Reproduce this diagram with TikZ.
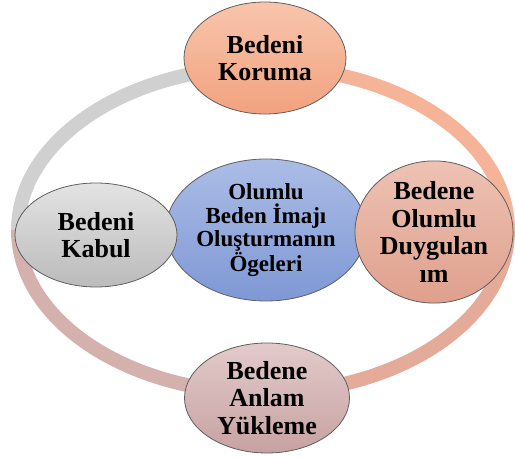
\documentclass[tikz,border=0pt]{standalone}
\usepackage{fontspec}
\setmainfont{Liberation Serif}
\usetikzlibrary{shapes.geometric}
\definecolor{ringgray}{HTML}{D0D0D0}
\definecolor{ringorange}{HTML}{F5B498}
\definecolor{ringsalmon}{HTML}{E5AB99}
\definecolor{ringpink}{HTML}{D5B1AE}
\definecolor{bordergray}{HTML}{5E5E5E}
\definecolor{hubtop}{HTML}{ABBDE6}
\definecolor{hubbot}{HTML}{7F98D5}
\definecolor{toptop}{HTML}{F8C5AC}
\definecolor{topbot}{HTML}{F2A27F}
\definecolor{lefttop}{HTML}{E3E3E3}
\definecolor{leftbot}{HTML}{BBBBBB}
\definecolor{righttop}{HTML}{EEC2B4}
\definecolor{rightbot}{HTML}{DFA08D}
\definecolor{bottop}{HTML}{E3CACA}
\definecolor{botbot}{HTML}{C7A2A2}
\tikzset{
  bubble/.style={ellipse, draw=bordergray, line width=0.8pt, inner sep=0pt,
    align=center, font=\fontsize{26}{27.5}\selectfont\bfseries},
  hub/.style={bubble, font=\fontsize{23}{23.2}\selectfont\bfseries},
  ringseg/.style={line width=14pt}
}
\begin{document}
\begin{tikzpicture}[x=1pt,y=1pt]
\useasboundingbox (0,0) rectangle (515,458);
\coordinate (ringc) at (263,228);
% ring
\draw[ringseg, draw=ringorange] ([shift={(245,0)}]ringc) arc[start angle=0, end angle=90, x radius=245, y radius=163];
\draw[ringseg, draw=ringgray] ([shift={(0,163)}]ringc) arc[start angle=90, end angle=180, x radius=245, y radius=163];
\draw[ringseg, draw=ringpink] ([shift={(-245,0)}]ringc) arc[start angle=180, end angle=270, x radius=245, y radius=163];
\draw[ringseg, draw=ringsalmon] ([shift={(0,-163)}]ringc) arc[start angle=270, end angle=360, x radius=245, y radius=163];
% hub
\node[hub, minimum width=200pt, minimum height=142pt, top color=hubtop, bottom color=hubbot]
  (hub) at (266,228) {Olumlu\\Beden İmajı\\Oluşturmanın\\Ögeleri};
% satellites
\node[bubble, minimum width=162pt, minimum height=112pt, top color=toptop, bottom color=topbot]
  (koruma) at (265,400) {Bedeni\\Koruma};
\node[bubble, minimum width=162pt, minimum height=104pt, top color=lefttop, bottom color=leftbot]
  (kabul) at (96,223) {Bedeni\\Kabul};
\node[bubble, minimum width=158pt, minimum height=110pt, top color=righttop, bottom color=rightbot]
  (duygu) at (434,226) {Bedene\\Olumlu\\Duygulan\\ım};
\node[bubble, minimum width=165pt, minimum height=110pt, top color=bottop, bottom color=botbot]
  (anlam) at (267,60) {Bedene\\Anlam\\Yükleme};
\end{tikzpicture}
\end{document}
